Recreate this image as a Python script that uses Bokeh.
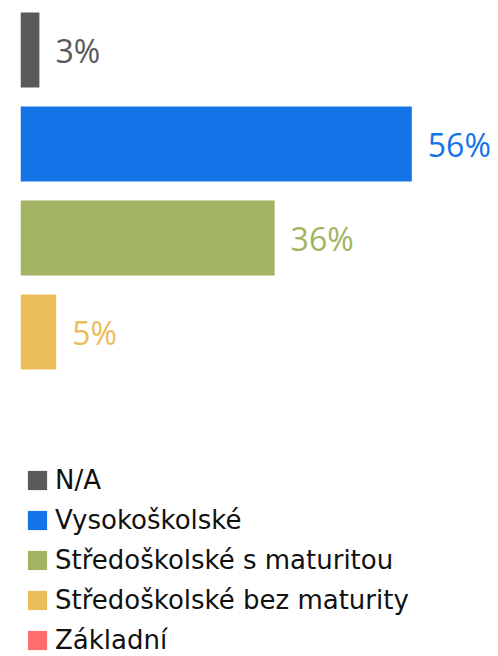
from bokeh.plotting import figure
from bokeh.models import ColumnDataSource, Range1d, Legend, LegendItem
from bokeh.core.properties import value
from bokeh.embed import file_html
from bokeh.resources import INLINE

categories = ["N/A", "Vysokoškolské", "Středoškolské s maturitou", "Středoškolské bez maturity", "Základní"]
shares = [2.7, 55.9, 36.3, 5.1, 0.0]
colors = ["#5a5a5a", "#1473e6", "#a2b461", "#ebbd5a", "#ff6e6e"]

idx = list(range(len(categories)))
labels = [f"{round(v)}%" if v > 0 else "" for v in shares]

src = ColumnDataSource(dict(y=idx, v=shares, c=colors, cat=categories, lab=labels))

W, H = 498, 656
left = 20
px_per = 7.0
pitch = 94.0
top_off = 49.5  # first bar center from frame top

p = figure(width=W, height=H, output_backend="svg", toolbar_location=None,
           x_range=Range1d(0, (W - left) / px_per),
           y_range=Range1d(-top_off / pitch + H / pitch, -top_off / pitch),
           min_border_left=left, min_border_right=0, min_border_top=0, min_border_bottom=0)
p.axis.visible = False
p.grid.visible = False
p.outline_line_color = None
p.background_fill_color = "white"
p.border_fill_color = "white"

r = p.hbar(y="y", right="v", left=0, height=0.8, fill_color="c", line_color=None, source=src)
p.text(x="v", y="y", text="lab", text_color="c", x_offset=16, text_baseline="middle",
       text_align="left", text_font=value("Open Sans"), text_font_size="32px", source=src)

items = [LegendItem(label=cat, renderers=[r], index=i) for i, cat in enumerate(categories)]
legend = Legend(items=items, location=(5, -4), orientation="vertical",
                glyph_width=24, glyph_height=24, label_height=40, label_standoff=6,
                spacing=0, padding=0, margin=0,
                label_text_font="DejaVu Sans", label_text_font_size="26px", label_text_color="#111111",
                border_line_alpha=0, background_fill_alpha=0)
p.add_layout(legend)

open("out.html", "w").write(file_html(p, INLINE))
